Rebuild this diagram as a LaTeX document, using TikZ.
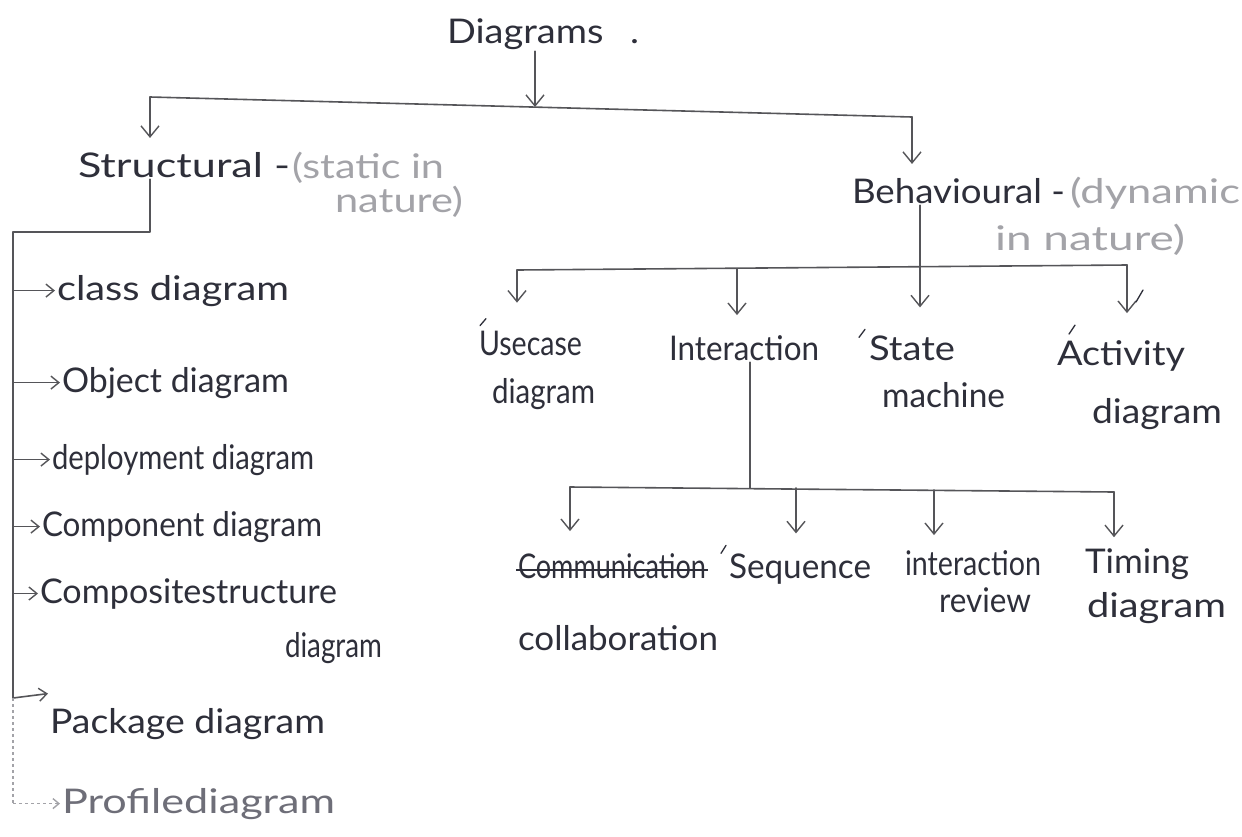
\documentclass[tikz,border=0pt]{standalone}
\usepackage{fontspec}
\setmainfont{Lato}
\usepackage{graphicx}
\usetikzlibrary{arrows.meta}
\definecolor{ink}{HTML}{2E2F3A}
\definecolor{linec}{HTML}{555559}
\definecolor{pale}{HTML}{A3A3A8}
\definecolor{mid}{HTML}{6E6E78}
\newcommand{\hw}[2]{\resizebox{#1pt}{\height}{#2}}
\begin{document}
\begin{tikzpicture}[x=1pt,y=-1pt,
  tx/.style={anchor=base west, inner sep=0pt, outer sep=2pt, text=ink, font=\fontsize{34}{40}\selectfont},
  gtx/.style={tx, text=pale},
  mtx/.style={tx, text=mid},
  ln/.style={draw=linec, line width=1.6pt, line cap=round, line join=round},
  arr/.style={ln, -{Straight Barb[length=11pt,width=18pt,line width=1.4pt]}},
  sarr/.style={ln, -{Straight Barb[length=8pt,width=13pt,line width=1.4pt]}},
  farr/.style={draw=pale, line width=1.4pt, dashed, -{Straight Barb[length=6pt,width=10pt]}},
  fln/.style={draw=pale, line width=1.2pt, dash pattern=on 3pt off 3pt},
  tick/.style={draw=ink, line width=1.3pt, line cap=round}]
\useasboundingbox (0,0) rectangle (1242,836);
\fill[white] (0,0) rectangle (1242,836);

% ---- texts ----
\node[tx] (dg) at (445,43) {\hw{192}{Diagrams\hspace{0.7em}.}};
\node[tx] (st) at (76,177) {\hw{212}{Structural -}};
\node[gtx] (stn1) at (290,178) {\hw{152}{(static in}};
\node[gtx] (stn2) at (333,212) {\hw{128}{nature)}};
\node[tx] (bh) at (850,203) {\hw{213}{Behavioural -}};
\node[gtx] (bhn1) at (1068,203) {\hw{170}{(dynamic}};
\node[gtx] (bhn2) at (993,250) {\hw{190}{in nature)}};

\node[tx] (cls) at (55,300) {\hw{232}{class diagram}};
\node[tx] (obj) at (60,392) {\hw{227}{Object diagram}};
\node[tx] (dep) at (50,469) {\hw{262}{deployment diagram}};
\node[tx] (cmp) at (40,536) {\hw{280}{Component diagram}};
\node[tx] (csd) at (38,603) {\hw{297}{Compositestructure}};
\node[tx] (csd2) at (283,657) {\hw{97}{diagram}};
\node[tx] (pk) at (48,733) {\hw{275}{Package diagram}};
\node[mtx] (pf) at (60,813) {\hw{273}{Profilediagram}};

\node[tx] (uc1) at (477,355) {\hw{103}{Usecase}};
\node[tx] (uc2) at (490,403) {\hw{103}{diagram}};
\node[tx] (ia) at (667,360) {\hw{150}{Interaction}};
\node[tx] (sm1) at (867,360) {\hw{86}{State}};
\node[tx] (sm2) at (880,407) {\hw{123}{machine}};
\node[tx] (ad1) at (1055,365) {\hw{128}{Activity}};
\node[tx] (ad2) at (1090,423) {\hw{130}{diagram}};

\node[tx] (com) at (516,578) {\hw{188}{Communication}};
\node[tx] (col) at (516,650) {\hw{200}{collaboration}};
\node[tx] (seq) at (727,578) {\hw{142}{Sequence}};
\node[tx] (io1) at (903,575) {\hw{136}{interaction}};
\node[tx] (io2) at (937,612) {\hw{92}{review}};
\node[tx] (tm1) at (1083,573) {\hw{104}{Timing}};
\node[tx] (tm2) at (1085,617) {\hw{139}{diagram}};

% strike-through
\draw[draw=ink, line width=1.4pt] ([yshift=8pt]com.base west) -- ([yshift=8pt]com.base east);

% ---- junction coordinates ----
\coordinate (mL) at (150,97);
\coordinate (mR) at (912,117);
\coordinate (dgj) at (535,107);
\coordinate (sj) at (150,232);
\coordinate (sl) at (13,232);
\coordinate (pkc) at (13,698);
\coordinate (bj) at (920,267);
\coordinate (bL) at (517,270);
\coordinate (bR) at (1127,265);
\coordinate (ij) at (750,488);
\coordinate (iL) at (570,487);
\coordinate (iR) at (1114,492);

% ---- top level ----
\draw[arr] (dg.south -| dgj) -- (dgj);
\draw[ln] (mL) -- (mR);
\draw[arr, shorten >=12pt] (mL) -- (st.north -| mL);
\draw[arr, shorten >=12pt] (mR) -- (bh.north -| mR);

% ---- structural ----
\draw[ln] (st.south -| sj) -- (sj) -- (sl);
\draw[sarr] (sl) -- (pkc) -- ([yshift=30pt]pk.west);
\foreach \n in {cls,obj,dep,cmp,csd}{
  \draw[sarr] (\n.west -| sl) -- (\n.west);
}
\draw[fln] (pkc) -- (pf.west -| sl);
\draw[farr] (pf.west -| sl) -- (pf.west);

% ---- behavioural ----
\draw[ln] (bh.south -| bj) -- (bj);
\draw[ln] (bL) -- (bR);
\draw[arr, shorten >=26pt] (bL) -- (uc1.north -| bL);
\draw[arr, shorten >=18pt] (737,269) -- (ia.north -| 737,0);
\draw[arr, shorten >=26pt] (bj) -- (sm1.north -| bj);
\draw[arr, shorten >=25pt] (bR) -- (ad1.north -| bR);

% ---- interaction ----
\draw[ln] (ia.south -| ij) -- (ij);
\draw[ln] (iL) -- (iR);
\draw[arr, shorten >=20pt] (iL) -- (com.north -| iL);
\draw[arr, shorten >=18pt] (796,488) -- (seq.north -| 796,0);
\draw[arr, shorten >=13pt] (934,490) -- (io1.north -| 934,0);
\draw[arr, shorten >=9pt] (iR) -- (tm1.north -| iR);

% ---- ticks ----
\draw[tick] ([shift={(3pt,3pt)}]uc1.north west) -- ++(6pt,7pt);
\draw[tick] ([shift={(-8pt,-4pt)}]sm1.north west) -- ++(6pt,8pt);
\draw[tick] ([shift={(14pt,4pt)}]ad1.north west) -- ++(6pt,9pt);
\draw[tick] (1136,302) -- (1143,290);
\draw[tick] ([shift={(-6pt,-2pt)}]seq.north west) -- ++(5pt,8pt);
\end{tikzpicture}
\end{document}
